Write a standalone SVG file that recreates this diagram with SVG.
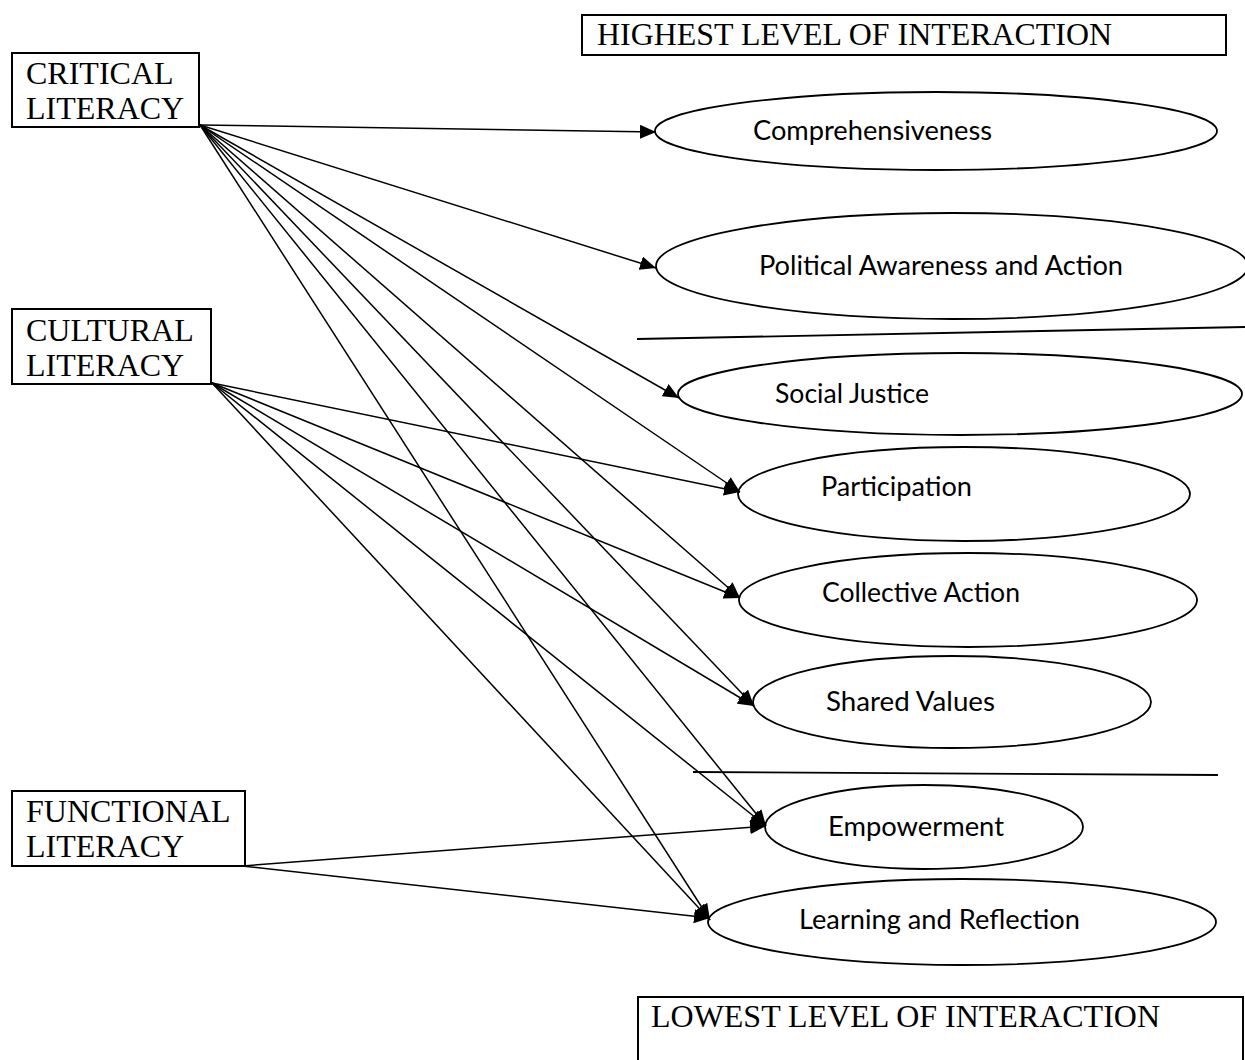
<svg xmlns="http://www.w3.org/2000/svg" width="1245" height="1060" viewBox="0 0 1245 1060">
<style>
.box{fill:#fff;stroke:#000;stroke-width:2}
.ell{fill:#fff;stroke:#000;stroke-width:1.8}
.t{font-family:"Liberation Serif","Times New Roman",serif;font-size:32px;fill:#000}
.e{font-family:Lato,"Open Sans",sans-serif;font-size:27px;fill:#000}
.c{stroke:#000;stroke-width:1.5;fill:none;marker-end:url(#ah)}
.sep{stroke:#000;stroke-width:1.8}
</style>
<defs>
<marker id="ah" markerUnits="userSpaceOnUse" markerWidth="18" markerHeight="14" refX="16" refY="7" orient="auto">
<path d="M0,0 L16,7 L0,14 Z" fill="#000"/>
</marker>
</defs>
<rect width="1245" height="1060" fill="#fff"/>
<g id="highest">
<rect class="box" x="582" y="15" width="644" height="40"/>
<text class="t" x="597" y="45" textLength="515" lengthAdjust="spacingAndGlyphs">HIGHEST LEVEL OF INTERACTION</text>
</g>
<g id="lowest">
<rect class="box" x="638" y="997" width="605" height="90"/>
<text class="t" x="651" y="1027" textLength="509" lengthAdjust="spacingAndGlyphs">LOWEST LEVEL OF INTERACTION</text>
</g>
<g id="separators">
<line class="sep" x1="637" y1="339" x2="1245" y2="327"/>
<line class="sep" x1="693" y1="772" x2="1218" y2="775"/>
</g>
<g id="comprehensiveness">
<ellipse class="ell" cx="936" cy="131" rx="281" ry="39"/>
<text class="e" x="753" y="140" textLength="239" lengthAdjust="spacingAndGlyphs">Comprehensiveness</text>
</g>
<g id="political">
<ellipse class="ell" cx="952" cy="266" rx="296" ry="53"/>
<text class="e" x="759" y="275" textLength="364" lengthAdjust="spacingAndGlyphs">Political Awareness and Action</text>
</g>
<g id="social-justice">
<ellipse class="ell" cx="960" cy="394" rx="282" ry="41"/>
<text class="e" x="775" y="403" textLength="154" lengthAdjust="spacingAndGlyphs">Social Justice</text>
</g>
<g id="participation">
<ellipse class="ell" cx="964" cy="494" rx="226" ry="47"/>
<text class="e" x="821" y="496" textLength="151" lengthAdjust="spacingAndGlyphs">Participation</text>
</g>
<g id="collective-action">
<ellipse class="ell" cx="968" cy="600" rx="229" ry="47"/>
<text class="e" x="822" y="602" textLength="198" lengthAdjust="spacingAndGlyphs">Collective Action</text>
</g>
<g id="shared-values">
<ellipse class="ell" cx="952" cy="702" rx="199" ry="46"/>
<text class="e" x="826" y="711" textLength="169" lengthAdjust="spacingAndGlyphs">Shared Values</text>
</g>
<g id="empowerment">
<ellipse class="ell" cx="924" cy="827" rx="159" ry="42"/>
<text class="e" x="828" y="836" textLength="176" lengthAdjust="spacingAndGlyphs">Empowerment</text>
</g>
<g id="learning">
<ellipse class="ell" cx="962" cy="922" rx="254" ry="43"/>
<text class="e" x="799" y="929" textLength="281" lengthAdjust="spacingAndGlyphs">Learning and Reflection</text>
</g>
<g id="critical">
<rect class="box" x="12" y="53" width="187" height="74"/>
<text class="t" x="26" y="84">CRITICAL</text>
<text class="t" x="26" y="119">LITERACY</text>
</g>
<g id="cultural">
<rect class="box" x="12" y="309" width="199" height="75"/>
<text class="t" x="26" y="341">CULTURAL</text>
<text class="t" x="26" y="376">LITERACY</text>
</g>
<g id="functional">
<rect class="box" x="12" y="791" width="233" height="75"/>
<text class="t" x="26" y="822">FUNCTIONAL</text>
<text class="t" x="26" y="857">LITERACY</text>
</g>
<g id="connectors">
<line class="c" x1="200" y1="125" x2="656" y2="132"/>
<line class="c" x1="200" y1="125" x2="656" y2="268"/>
<line class="c" x1="200" y1="125" x2="679" y2="398"/>
<line class="c" x1="200" y1="125" x2="740" y2="492"/>
<line class="c" x1="200" y1="125" x2="740" y2="598"/>
<line class="c" x1="200" y1="125" x2="754" y2="706"/>
<line class="c" x1="200" y1="125" x2="766" y2="826"/>
<line class="c" x1="200" y1="125" x2="710" y2="920"/>
<line class="c" x1="212" y1="383" x2="740" y2="492"/>
<line class="c" x1="212" y1="383" x2="740" y2="598"/>
<line class="c" x1="212" y1="383" x2="754" y2="706"/>
<line class="c" x1="212" y1="383" x2="766" y2="826"/>
<line class="c" x1="212" y1="383" x2="710" y2="920"/>
<line class="c" x1="242" y1="866" x2="766" y2="826"/>
<line class="c" x1="242" y1="866" x2="710" y2="918"/>
</g>
</svg>
